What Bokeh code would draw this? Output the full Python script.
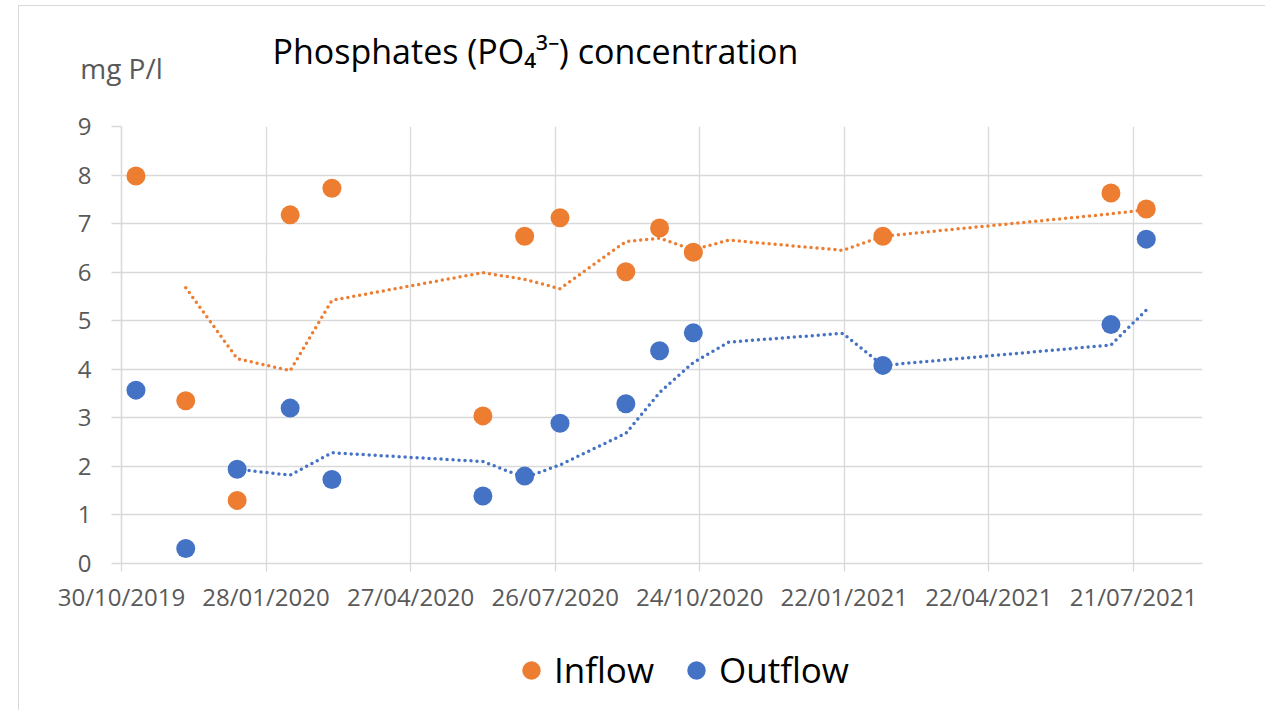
import pandas as pd
from bokeh.plotting import figure
from bokeh.layouts import column
from bokeh.models import (FixedTicker, Range1d, DatetimeTickFormatter, LinearAxis,
                          Legend, LegendItem, Title)
from bokeh.embed import file_html
from bokeh.resources import INLINE

# ---------------- data ----------------
tick_labels = ["30/10/2019", "28/01/2020", "27/04/2020", "26/07/2020",
               "24/10/2020", "22/01/2021", "22/04/2021", "21/07/2021"]
x_start = "30/10/2019"
x_end = "02/09/2021"
y_ticks = [0, 1, 2, 3, 4, 5, 6, 7, 8, 9]

sample_dates = ["08/11/2019", "09/12/2019", "10/01/2020", "12/02/2020", "09/03/2020",
                "11/06/2020", "07/07/2020", "29/07/2020", "08/09/2020", "29/09/2020",
                "20/10/2020", "15/02/2021", "07/07/2021", "29/07/2021"]
inflow_values = [7.98, 3.35, 1.30, 7.18, 7.73, 3.04, 6.74, 7.12, 6.01, 6.91,
                 6.41, 6.74, 7.63, 7.30]
outflow_values = [3.57, 0.31, 1.94, 3.20, 1.73, 1.39, 1.80, 2.89, 3.29, 4.38,
                  4.75, 4.08, 4.92, 6.68]

inflow_trend_dates = ["09/12/2019", "10/01/2020", "12/02/2020", "09/03/2020", "11/06/2020",
                      "07/07/2020", "29/07/2020", "08/09/2020", "29/09/2020", "20/10/2020",
                      "11/11/2020", "21/01/2021", "15/02/2021", "07/07/2021", "29/07/2021"]
inflow_trend_values = [5.68, 4.22, 3.97, 5.42, 5.99, 5.85, 5.66, 6.63, 6.70, 6.46,
                       6.66, 6.45, 6.74, 7.20, 7.29]

outflow_trend_dates = ["10/01/2020", "12/02/2020", "09/03/2020", "11/06/2020", "07/07/2020",
                       "29/07/2020", "08/09/2020", "29/09/2020", "20/10/2020", "11/11/2020",
                       "21/01/2021", "15/02/2021", "07/07/2021", "29/07/2021"]
outflow_trend_values = [1.94, 1.82, 2.28, 2.10, 1.77, 2.03, 2.68, 3.52, 4.14, 4.56,
                        4.74, 4.08, 4.50, 5.22]

title_text = "Phosphates (PO\u2084\u00b3\u207b) concentration"
unit_text = "mg P/l"
series_names = ["Inflow", "Outflow"]

ORANGE = "#ED7D31"
BLUE = "#4472C4"
GRID = "#D9D9D9"
TXT = "#595959"
FONT = "Open Sans"


def to_dt(lst):
    return pd.to_datetime(lst, format="%d/%m/%Y")


def to_ms(lst):
    return [t.timestamp() * 1000.0 for t in to_dt(lst)]


p = figure(x_axis_type="datetime", width=1246, height=624,
           x_range=Range1d(to_dt([x_start])[0], to_dt([x_end])[0]),
           y_range=Range1d(0, 9),
           output_backend="svg", toolbar_location=None,
           min_border_left=102, min_border_right=63,
           min_border_top=120, min_border_bottom=67)

p.background_fill_color = "white"
p.border_fill_color = "white"
p.outline_line_color = None

xt = FixedTicker(ticks=to_ms(tick_labels))
yt = FixedTicker(ticks=y_ticks)
p.xaxis.ticker = xt
p.yaxis.ticker = yt
p.xgrid.ticker = xt
p.ygrid.ticker = yt
p.xaxis.formatter = DatetimeTickFormatter(days="%d/%m/%Y", months="%d/%m/%Y",
                                          years="%d/%m/%Y")

p.grid.grid_line_color = GRID
p.grid.grid_line_width = 1.3
p.axis.axis_line_color = GRID
p.axis.axis_line_width = 1.6
p.axis.major_tick_line_color = GRID
p.axis.major_tick_line_width = 1.3
p.axis.major_tick_in = 0
p.xaxis.major_tick_out = 8
p.yaxis.major_tick_out = 10
p.axis.minor_tick_line_color = None
p.axis.major_label_text_font = FONT
p.axis.major_label_text_font_size = "24px"
p.axis.major_label_text_color = TXT
p.yaxis.major_label_standoff = 20
p.xaxis.major_label_standoff = 8

# unit label on top of the value axis (an extra axis above, one tick at the axis start)
x0_ms = to_ms([x_start])[0]
unit_axis = LinearAxis(ticker=FixedTicker(ticks=[x0_ms]),
                       major_label_overrides={x0_ms: unit_text},
                       axis_line_color=None, major_tick_line_color=None,
                       minor_tick_line_color=None, major_tick_out=0, major_tick_in=0,
                       major_label_standoff=40, major_label_text_font=FONT,
                       major_label_text_font_size="28px", major_label_text_color=TXT)
p.add_layout(unit_axis, "above")

# chart title
p.title = Title(text=title_text, align="left", offset=151, standoff=-56,
                text_font=FONT, text_font_size="34px", text_font_style="normal",
                text_color="black")

# moving-average style dotted trend lines
p.line(to_dt(inflow_trend_dates), inflow_trend_values, line_color=ORANGE,
       line_width=3.5, line_dash="0 6", line_cap="round")
p.line(to_dt(outflow_trend_dates), outflow_trend_values, line_color=BLUE,
       line_width=3.5, line_dash="0 6", line_cap="round")

# measured points
p.scatter(to_dt(sample_dates), inflow_values, size=19, fill_color=ORANGE, line_color=None)
p.scatter(to_dt(sample_dates), outflow_values, size=19, fill_color=BLUE, line_color=None)

# ---------------- legend strip below the chart ----------------
lf = figure(width=1246, height=80, x_range=Range1d(0, 1), y_range=Range1d(0, 1),
            x_axis_location=None, y_axis_location=None,
            output_backend="svg", toolbar_location=None,
            min_border_left=0, min_border_right=0, min_border_top=0, min_border_bottom=0)
lf.outline_line_color = None
lf.grid.visible = False
lf.background_fill_color = "white"
lf.border_fill_color = "white"
# legend proxies carry the same series (they fall outside this strip's ranges, so only
# their legend swatches are drawn)
k_in = lf.scatter(to_dt(sample_dates), inflow_values, size=19, fill_color=ORANGE, line_color=None)
k_out = lf.scatter(to_dt(sample_dates), outflow_values, size=19, fill_color=BLUE, line_color=None)
legend = Legend(items=[LegendItem(label=series_names[0], renderers=[k_in]),
                       LegendItem(label=series_names[1], renderers=[k_out])],
                orientation="horizontal", location=(387, 17),
                margin=0, padding=0, spacing=19,
                glyph_width=46, glyph_height=46, label_standoff=0,
                label_text_font=FONT, label_text_font_size="35px",
                label_text_color="black",
                border_line_color=None, background_fill_alpha=0)
lf.add_layout(legend)

page = column(p, lf, spacing=0,
              styles={"margin-left": "18px", "margin-top": "5px",
                      "border-top": "1px solid #D9D9D9",
                      "border-left": "1px solid #D9D9D9"})
open("out.html", "w").write(file_html(page, INLINE))
